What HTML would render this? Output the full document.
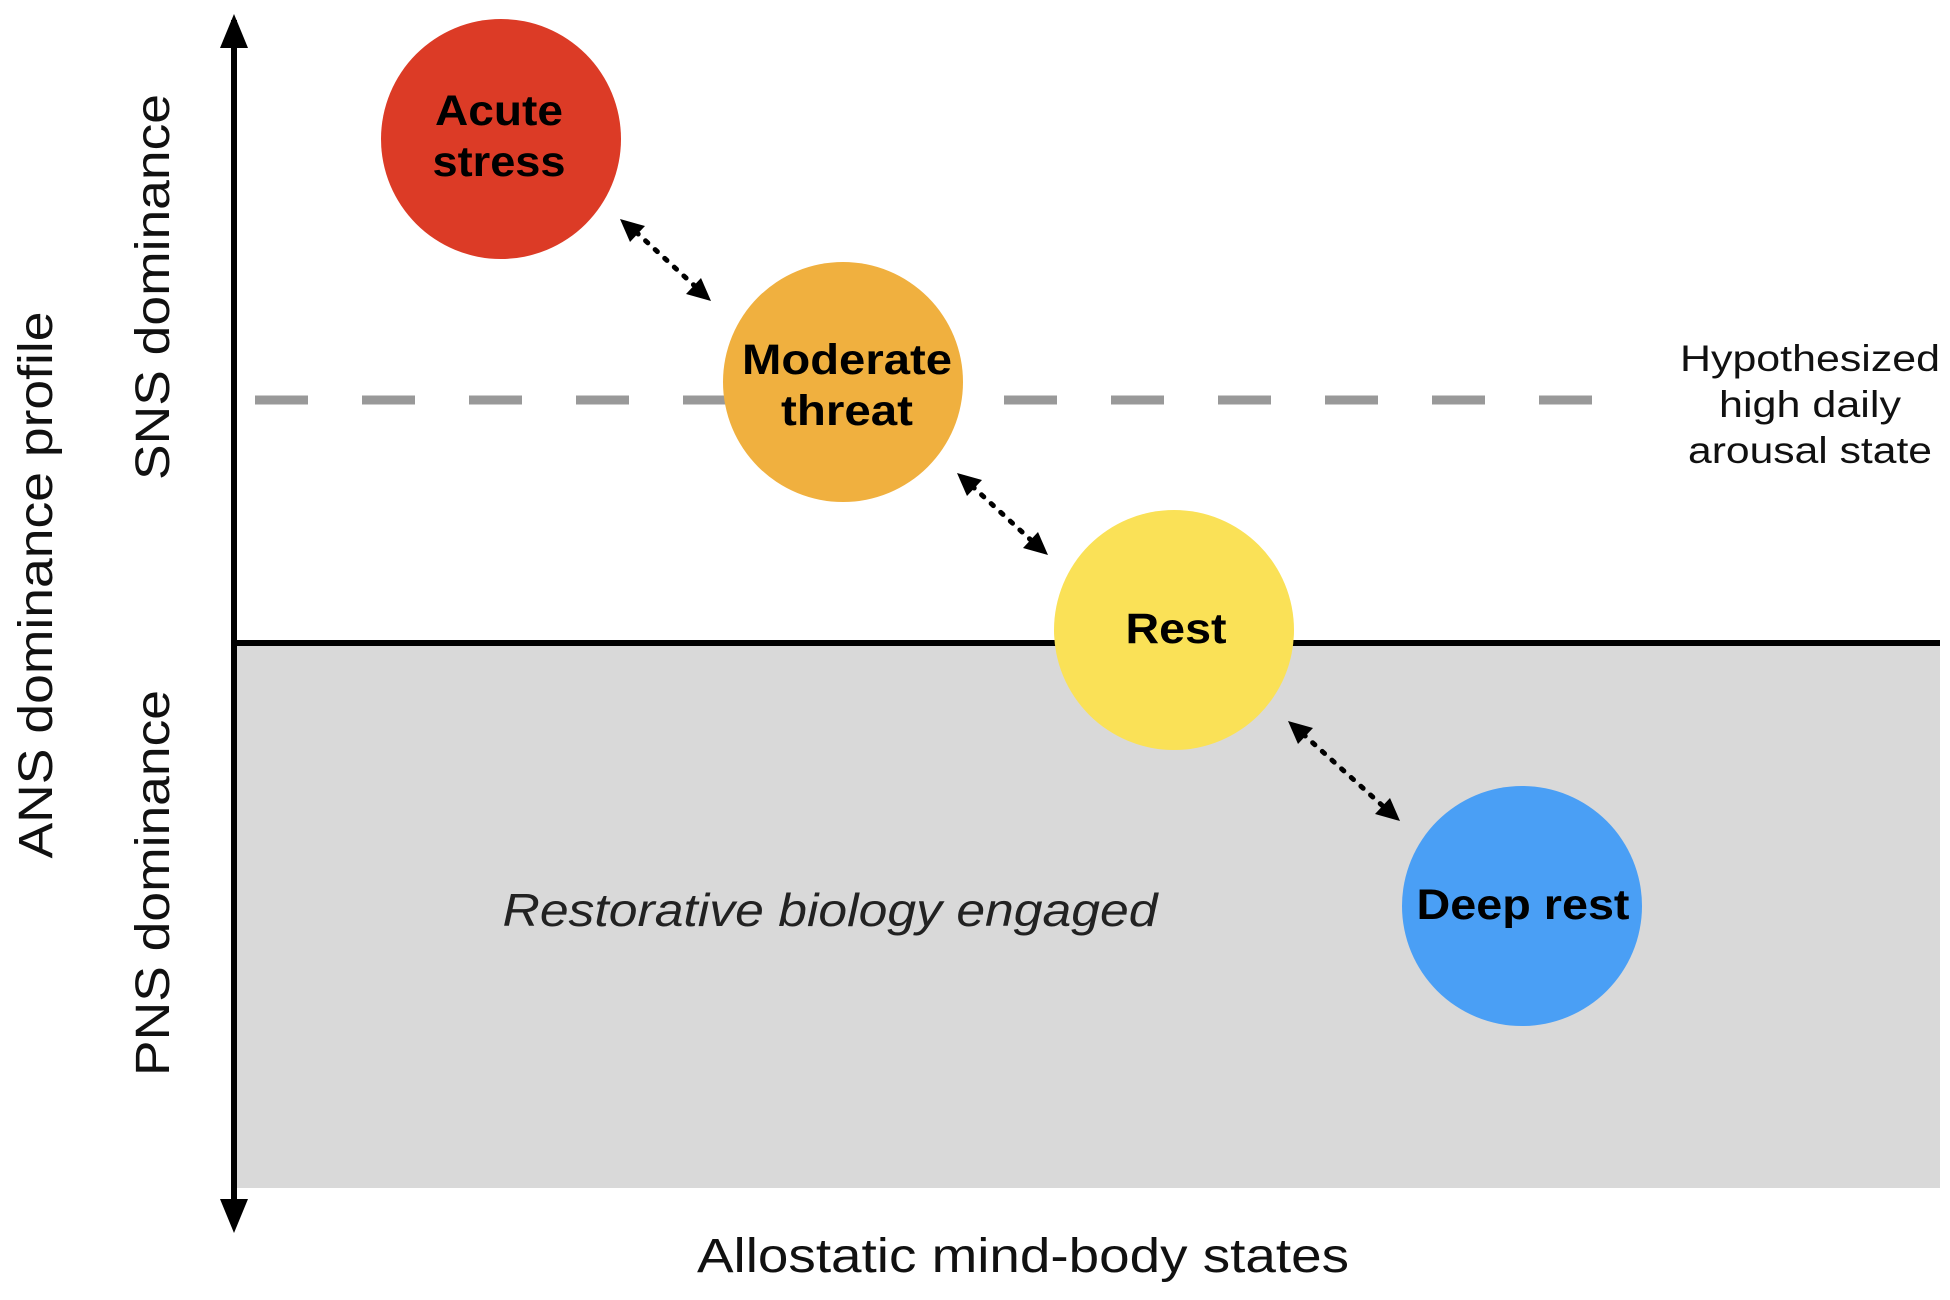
<!DOCTYPE html>
<html><head><meta charset="utf-8"><style>
html,body{margin:0;padding:0;background:#fff;}
body{width:1950px;height:1295px;overflow:hidden;}
</style></head><body>
<svg width="1950" height="1295" viewBox="0 0 1950 1295" xmlns="http://www.w3.org/2000/svg" font-family="Liberation Sans, Arial, sans-serif">
<rect x="236" y="643" width="1704" height="545" fill="#d9d9d9"/>
<line x1="255" y1="400" x2="1592" y2="400" stroke="#999" stroke-width="9" stroke-dasharray="53 54"/>
<line x1="234" y1="643" x2="1940" y2="643" stroke="#000" stroke-width="6"/>
<line x1="234" y1="20" x2="234" y2="1226" stroke="#000" stroke-width="6"/>
<path d="M234,14 L220,48 L248,48 Z" fill="#000"/>
<path d="M234,1233 L220,1199 L248,1199 Z" fill="#000"/>

<circle cx="501" cy="139" r="120" fill="#dc3b26"/>
<circle cx="843" cy="382" r="120" fill="#f0b03f"/>
<circle cx="1174" cy="630" r="120" fill="#fae157"/>
<circle cx="1522" cy="906" r="120" fill="#4a9ff5"/>

<g stroke="#000" stroke-width="5" stroke-dasharray="3 10" stroke-linecap="round" fill="none">
<line x1="636" y1="232" x2="697" y2="288"/>
<line x1="972" y1="486" x2="1033" y2="542"/>
<line x1="1303" y1="734" x2="1385" y2="808"/>
</g>
<g fill="#000">
<path d="M620,219 L645,226 L630,242 Z"/>
<path d="M711,301 L686,294 L701,278 Z"/>
<path d="M957,473 L982,480 L967,496 Z"/>
<path d="M1048,555 L1023,548 L1038,532 Z"/>
<path d="M1288,721 L1313,728 L1298,744 Z"/>
<path d="M1400,821 L1375,814 L1390,798 Z"/>
</g>

<g font-weight="bold" font-size="43" text-anchor="middle" fill="#000">
<text x="499" y="125" textLength="128" lengthAdjust="spacingAndGlyphs">Acute</text>
<text x="499" y="176" textLength="133" lengthAdjust="spacingAndGlyphs">stress</text>
<text x="847" y="374" textLength="210" lengthAdjust="spacingAndGlyphs">Moderate</text>
<text x="847" y="425" textLength="132" lengthAdjust="spacingAndGlyphs">threat</text>
<text x="1176" y="643" textLength="101" lengthAdjust="spacingAndGlyphs">Rest</text>
<text x="1523" y="919" textLength="213" lengthAdjust="spacingAndGlyphs">Deep rest</text>
</g>
<g font-size="37" text-anchor="middle" fill="#111">
<text x="1810" y="371" textLength="260" lengthAdjust="spacingAndGlyphs">Hypothesized</text>
<text x="1810" y="417" textLength="182" lengthAdjust="spacingAndGlyphs">high daily</text>
<text x="1810" y="463" textLength="244" lengthAdjust="spacingAndGlyphs">arousal state</text>
</g>
<text x="830" y="926" font-size="46" font-style="italic" text-anchor="middle" fill="#222" textLength="655" lengthAdjust="spacingAndGlyphs">Restorative biology engaged</text>
<text x="1023" y="1272" font-size="48" text-anchor="middle" fill="#111" textLength="652" lengthAdjust="spacingAndGlyphs">Allostatic mind-body states</text>
<text transform="translate(52,585) rotate(-90)" font-size="48" text-anchor="middle" fill="#111" textLength="547" lengthAdjust="spacingAndGlyphs">ANS dominance profile</text>
<text transform="translate(169,287) rotate(-90)" font-size="48" text-anchor="middle" fill="#111" textLength="386" lengthAdjust="spacingAndGlyphs">SNS dominance</text>
<text transform="translate(169,883) rotate(-90)" font-size="48" text-anchor="middle" fill="#111" textLength="386" lengthAdjust="spacingAndGlyphs">PNS dominance</text>
</svg>
</body></html>
